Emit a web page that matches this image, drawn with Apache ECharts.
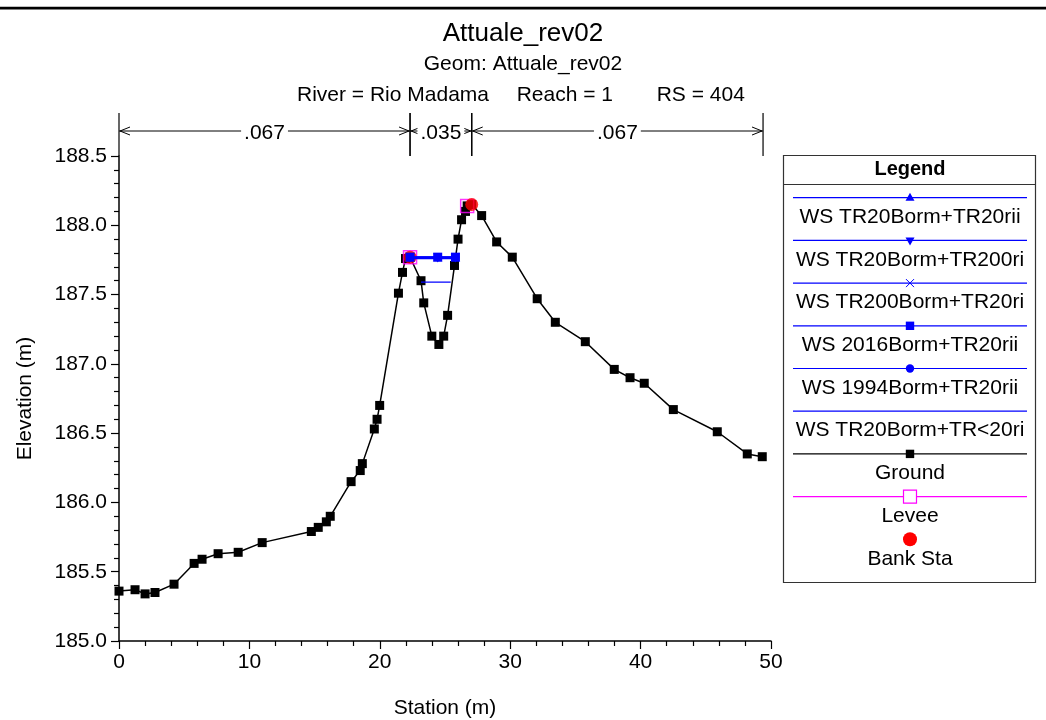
<!DOCTYPE html>
<html><head><meta charset="utf-8">
<script src="https://cdn.jsdelivr.net/npm/echarts@6/dist/echarts.min.js"></script>
<style>html,body{margin:0;padding:0;background:#fff}#c{width:1046px;height:720px}</style>
</head><body><div id="c"></div>
<script>
// ---- data ----
const groundStation = [0, 1.23, 2.0, 2.76, 4.22, 5.76, 6.37, 7.6, 9.14, 10.98, 14.75, 15.28, 15.9, 16.2, 17.8, 18.5, 18.66, 19.58, 19.79, 19.99, 21.43, 21.74, 21.97, 22.32, 23.16, 23.37, 23.99, 24.53, 24.9, 25.2, 25.73, 26.0, 26.27, 26.57, 26.7, 27.05, 27.81, 28.96, 30.16, 32.07, 33.46, 35.76, 37.98, 39.19, 40.28, 42.51, 45.88, 48.18, 49.33];
const groundElev = [185.36, 185.37, 185.34, 185.35, 185.41, 185.56, 185.59, 185.63, 185.64, 185.71, 185.79, 185.82, 185.86, 185.90, 186.15, 186.23, 186.28, 186.53, 186.60, 186.70, 187.51, 187.66, 187.76, 187.77, 187.60, 187.44, 187.20, 187.14, 187.20, 187.35, 187.71, 187.90, 188.04, 188.10, 188.14, 188.15, 188.07, 187.88, 187.77, 187.47, 187.30, 187.16, 186.96, 186.90, 186.86, 186.67, 186.51, 186.35, 186.33];

const wsNames = ['WS TR20Borm+TR20rii', 'WS TR20Borm+TR200ri', 'WS TR200Borm+TR20ri', 'WS 2016Borm+TR20rii', 'WS 1994Borm+TR20rii', 'WS TR20Borm+TR<20ri'];
const wsElev = [187.77, 187.76, 187.77, 187.77, 187.77, 187.59];
const wsStationsHigh = [22.32, 24.44, 25.80];
const wsStationsLow = [23.16, 25.44];

const leveeStation = [22.32, 26.7];
const leveeElev = [187.77, 188.14];
const bankStation = [22.32, 27.05];
const bankElev = [187.77, 188.15];

const nStations = [0, 22.32, 27.05, 49.39];
const nValues = ['.067', '.035', '.067'];

const xTicks = [0, 10, 20, 30, 40, 50];
const yTicks = [185.0, 185.5, 186.0, 186.5, 187.0, 187.5, 188.0, 188.5];

const titleMain = 'Attuale_rev02';
const titleGeom = 'Geom: Attuale_rev02';
const titleParts = ['River = Rio Madama', 'Reach = 1', 'RS = 404'];

// ---- style ----
const FONT = '"Liberation Sans", Arial, sans-serif';
const BLUE = '#0000ff';
const MAG = '#ff00ff';
const RED = '#ff0000';
const yMin = yTicks[0], yMax = yTicks[yTicks.length - 1];

const chart = echarts.init(document.getElementById('c'), null, {renderer: 'canvas'});

const wsSymbols = ['triangle', 'triangle', 'path://M0,0L10,10M10,0L0,10', 'rect', 'circle', 'none'];
const wsRot = [0, 180, 0, 0, 0, 0];
const wsOrder = [0, 1, 2, 4, 5, 3]; // square drawn last (on top)

const series = [];
series.push({
  name: 'Ground', type: 'line', data: groundStation.map((x, i) => [x, groundElev[i]]),
  symbol: 'rect', symbolSize: 9, showAllSymbol: true,
  lineStyle: {color: '#000', width: 1.5}, itemStyle: {color: '#000'}, z: 2, animation: false
});
series.push({
  name: 'Levee', type: 'scatter', data: leveeStation.map((x, i) => [x, leveeElev[i]]),
  symbol: 'rect', symbolSize: 13,
  itemStyle: {color: 'rgba(0,0,0,0)', borderColor: MAG, borderWidth: 1.5}, z: 3, animation: false
});
series.push({
  name: 'Bank Sta', type: 'scatter', data: bankStation.map((x, i) => [x, bankElev[i]]),
  symbol: 'circle', symbolSize: 13, itemStyle: {color: RED}, z: 4, animation: false
});
wsOrder.forEach((k, j) => {
  const st = k === 5 ? wsStationsLow : wsStationsHigh;
  series.push({
    name: wsNames[k], type: 'line', data: st.map(x => [x, wsElev[k]]),
    symbol: wsSymbols[k], symbolRotate: wsRot[k], symbolSize: k === 3 ? 9 : 8, showSymbol: k !== 5,
    lineStyle: {color: BLUE, width: k === 5 ? 1.2 : 1.5},
    itemStyle: k === 2 ? {color: 'none', borderColor: BLUE, borderWidth: 1} : {color: BLUE},
    z: 5 + j, animation: false
  });
});
// Manning's n annotation
series.push({
  type: 'custom', name: 'nval', clip: false, silent: true, animation: false, z: 10,
  data: nValues.map((v, i) => [nStations[i], yMax, nStations[i + 1]]),
  encode: {x: [0, 2], y: 1},
  renderItem: function (params, api) {
    const p0 = api.coord([api.value(0), yMax]);
    const p1 = api.coord([api.value(2), yMax]);
    const x0 = p0[0], x1 = p1[0], yTop = p0[1];
    const ay = yTop - 25;
    const st = {stroke: '#000', lineWidth: 1.2, fill: null};
    return {
      type: 'group',
      children: [
        {type: 'line', shape: {x1: x0, y1: yTop - 43, x2: x0, y2: yTop}, style: st},
        {type: 'line', shape: {x1: x1, y1: yTop - 43, x2: x1, y2: yTop}, style: st},
        {type: 'line', shape: {x1: x0, y1: ay, x2: x1, y2: ay}, style: {stroke: '#000', lineWidth: 1}},
        {type: 'polyline', shape: {points: [[x0 + 11, ay - 4], [x0 + 1, ay], [x0 + 11, ay + 4]]}, style: {stroke: '#000', lineWidth: 1, fill: null}},
        {type: 'polyline', shape: {points: [[x1 - 11, ay - 4], [x1 - 1, ay], [x1 - 11, ay + 4]]}, style: {stroke: '#000', lineWidth: 1, fill: null}},
        {type: 'text', z2: 10, style: {x: (x0 + x1) / 2, y: ay + 2, text: nValues[params.dataIndex], align: 'center', verticalAlign: 'middle',
          font: '21px ' + FONT, fill: '#000', backgroundColor: '#fff', padding: [0, 3]}}
      ]
    };
  }
});

// ---- legend graphic ----
const legendItems = [
  {name: wsNames[0], color: BLUE, sym: 'triUp', line: true},
  {name: wsNames[1], color: BLUE, sym: 'triDown', line: true},
  {name: wsNames[2], color: BLUE, sym: 'x', line: true},
  {name: wsNames[3], color: BLUE, sym: 'square', line: true},
  {name: wsNames[4], color: BLUE, sym: 'circle', line: true},
  {name: wsNames[5], color: BLUE, sym: 'none', line: true},
  {name: 'Ground', color: '#000', sym: 'square', line: true},
  {name: 'Levee', color: MAG, sym: 'hollow', line: true},
  {name: 'Bank Sta', color: RED, sym: 'big', line: false}
];
const LX = 783, LY = 155, LW = 252, LH = 427, LCX = 910;
const g = [];
g.push({type: 'rect', shape: {x: LX + 0.5, y: LY + 0.5, width: LW, height: LH}, style: {fill: '#fff', stroke: '#333', lineWidth: 1.2}, z: 20});
g.push({type: 'line', shape: {x1: LX, y1: 184.5, x2: LX + LW, y2: 184.5}, style: {stroke: '#333', lineWidth: 1.2}, z: 21});
g.push({type: 'text', style: {x: LCX, y: 169, text: 'Legend', align: 'center', verticalAlign: 'middle', font: 'bold 20px ' + FONT, fill: '#000'}, z: 21});
legendItems.forEach((it, i) => {
  const ly = 197.7 + i * 42.7;
  if (it.line) g.push({type: 'line', shape: {x1: 793, y1: ly, x2: 1027, y2: ly}, style: {stroke: it.color, lineWidth: 1.2}, z: 21});
  const c = it.color;
  if (it.sym === 'triUp') g.push({type: 'polygon', shape: {points: [[LCX, ly - 5], [LCX - 4.5, ly + 3], [LCX + 4.5, ly + 3]]}, style: {fill: c}, z: 22});
  if (it.sym === 'triDown') g.push({type: 'polygon', shape: {points: [[LCX, ly + 5], [LCX - 4.5, ly - 3], [LCX + 4.5, ly - 3]]}, style: {fill: c}, z: 22});
  if (it.sym === 'x') {
    g.push({type: 'line', shape: {x1: LCX - 4, y1: ly - 4, x2: LCX + 4, y2: ly + 4}, style: {stroke: c, lineWidth: 1}, z: 22});
    g.push({type: 'line', shape: {x1: LCX - 4, y1: ly + 4, x2: LCX + 4, y2: ly - 4}, style: {stroke: c, lineWidth: 1}, z: 22});
  }
  if (it.sym === 'square') g.push({type: 'rect', shape: {x: LCX - 4.2, y: ly - 4.2, width: 8.4, height: 8.4}, style: {fill: c}, z: 22});
  if (it.sym === 'circle') g.push({type: 'circle', shape: {cx: LCX, cy: ly, r: 4.2}, style: {fill: c}, z: 22});
  if (it.sym === 'hollow') g.push({type: 'rect', shape: {x: LCX - 6.5, y: ly - 6.5, width: 13, height: 13}, style: {fill: '#fff', stroke: c, lineWidth: 1.2}, z: 22});
  if (it.sym === 'big') g.push({type: 'circle', shape: {cx: LCX, cy: ly, r: 7}, style: {fill: c}, z: 22});
  g.push({type: 'text', style: {x: LCX, y: ly + 19.5, text: it.name, align: 'center', verticalAlign: 'middle', font: '21px ' + FONT, fill: '#000'}, z: 21});
});
// top frame line
g.push({type: 'rect', shape: {x: 0, y: 6.8, width: 1046, height: 2.6}, style: {fill: '#000'}, z: 30});
// third title line
const tpX = [297, 516.7, 656.7];
titleParts.forEach((t, i) => g.push({type: 'text', style: {x: tpX[i], y: 95.5, text: t, align: 'left', verticalAlign: 'middle', font: '21px ' + FONT, fill: '#000'}, z: 21}));

const axisCommon = {
  axisLine: {show: true, onZero: false, lineStyle: {color: '#000', width: 1.5}},
  axisTick: {show: true, inside: false, length: 8, lineStyle: {color: '#000', width: 1.2}},
  minorTick: {show: true, splitNumber: 5, length: 5, lineStyle: {color: '#000', width: 1.2}},
  splitLine: {show: false}, minorSplitLine: {show: false},
  nameTextStyle: {fontFamily: FONT, fontSize: 21, color: '#000'}
};

chart.setOption({
  backgroundColor: '#fff',
  animation: false,
  textStyle: {fontFamily: FONT},
  title: [
    {text: titleMain, left: 'center', top: 19, padding: 0, textStyle: {fontFamily: FONT, fontSize: 26, fontWeight: 'normal', color: '#000', lineHeight: 30}},
    {text: titleGeom, left: 'center', top: 52, padding: 0, textStyle: {fontFamily: FONT, fontSize: 21, fontWeight: 'normal', color: '#000', lineHeight: 24}}
  ],
  grid: {left: 119, right: 275, top: 156, bottom: 79, containLabel: false, outerBoundsMode: 'none'},
  xAxis: Object.assign({}, axisCommon, {
    type: 'value', min: xTicks[0], max: xTicks[xTicks.length - 1], interval: xTicks[1] - xTicks[0],
    name: 'Station (m)', nameLocation: 'middle', nameGap: 57,
    axisLabel: {fontFamily: FONT, fontSize: 21, color: '#000', margin: 11}
  }),
  yAxis: Object.assign({}, axisCommon, {
    type: 'value', min: yMin, max: yMax, interval: yTicks[1] - yTicks[0],
    name: 'Elevation (m)', nameLocation: 'middle', nameGap: 83,
    axisLabel: {fontFamily: FONT, fontSize: 21, color: '#000', margin: 12, formatter: v => v.toFixed(1)}
  }),
  series: series,
  graphic: g
});
</script></body></html>
